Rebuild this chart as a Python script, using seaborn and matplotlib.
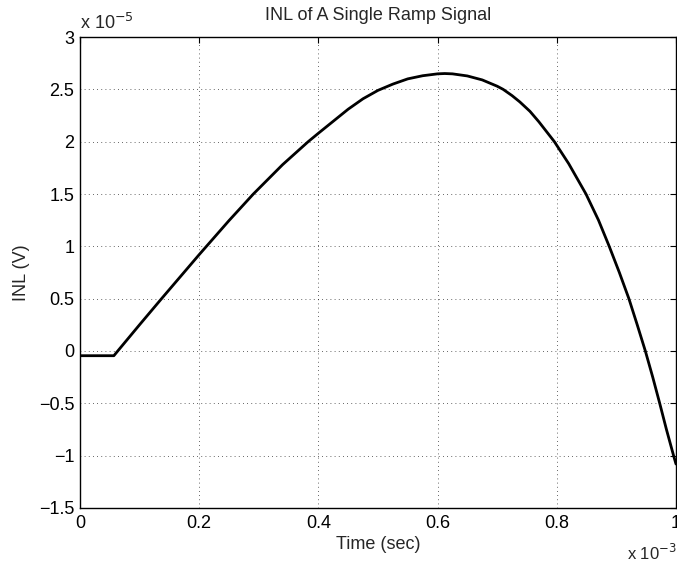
import matplotlib
matplotlib.use("Agg")
import matplotlib.pyplot as plt
import seaborn as sns
import pandas as pd

# time in units of 1e-3 s, INL in units of 1e-5 V
time_ms = [0.0, 0.057, 0.0635, 0.1, 0.137, 0.2, 0.25, 0.291, 0.34, 0.383,
           0.4, 0.45, 0.475, 0.5, 0.525, 0.55, 0.575, 0.6, 0.612, 0.625,
           0.65, 0.675, 0.7, 0.71, 0.725, 0.738, 0.755, 0.77, 0.796, 0.82,
           0.849, 0.87, 0.888, 0.905, 0.921, 0.935, 0.9486, 0.961, 0.9727,
           0.984, 0.996, 1.0]
inl_e5 = [-0.045, -0.045, 0.0, 0.25, 0.5, 0.92, 1.245, 1.5, 1.78, 2.0,
          2.08, 2.31, 2.41, 2.49, 2.55, 2.60, 2.63, 2.648, 2.651, 2.648,
          2.628, 2.59, 2.53, 2.5, 2.44, 2.38, 2.29, 2.19, 2.0, 1.79,
          1.5, 1.25, 1.0, 0.75, 0.5, 0.25, 0.0, -0.25, -0.5,
          -0.75, -1.0, -1.08]

xticks = [0, 0.2, 0.4, 0.6, 0.8, 1]
xticklabels = ["0", "0.2", "0.4", "0.6", "0.8", "1"]
yticks = [-1.5, -1, -0.5, 0, 0.5, 1, 1.5, 2, 2.5, 3]
yticklabels = ["\u22121.5", "\u22121", "\u22120.5", "0", "0.5", "1", "1.5", "2", "2.5", "3"]

sns.set_style("white")
plt.rcParams['font.family'] = ['Liberation Sans', 'DejaVu Sans']

df = pd.DataFrame({"t": time_ms, "inl": inl_e5})

fig = plt.figure(figsize=(6.77, 5.65), dpi=100)
ax = fig.add_axes([0.118, 0.1009, 0.8805, 0.8336])

sns.lineplot(data=df, x="t", y="inl", ax=ax, color="black", linewidth=2.0)

ax.set_xlim(0, 1)
ax.set_ylim(-1.5, 3)
ax.set_xticks(xticks)
ax.set_xticklabels(xticklabels)
ax.set_yticks(yticks)
ax.set_yticklabels(yticklabels)
ax.tick_params(direction="in", length=4, width=0.8, top=True, right=True,
               labelsize=13, colors="black", pad=4)
ax.tick_params(axis="x", pad=5)

ax.grid(True, linestyle=(0, (1, 4)), color="black", linewidth=0.6, alpha=0.8)
for s in ax.spines.values():
    s.set_color("black")
    s.set_linewidth(1.0)

ax.set_title("INL of A Single Ramp Signal", fontsize=13, pad=12)
ax.set_xlabel("Time (sec)", fontsize=13, labelpad=3)
ax.set_ylabel("INL (V)", fontsize=13, labelpad=6)

# MATLAB-style exponent labels
fig.text(0.118, 0.942, r"x 10$^{-5}$", fontsize=13, ha="left", va="bottom")
fig.text(0.926, 0.004, r"x 10$^{-3}$", fontsize=12, ha="left", va="bottom")

fig.savefig("out.png", dpi=100)
